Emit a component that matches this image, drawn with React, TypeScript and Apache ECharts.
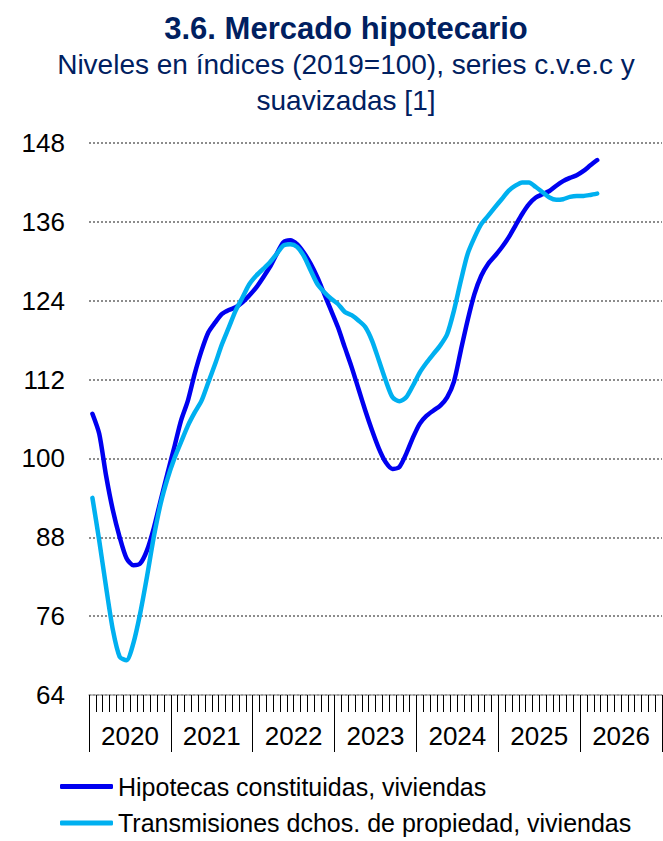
import React, { useEffect, useRef } from "react";
import * as echarts from "echarts";

const TITLE = "3.6. Mercado hipotecario";
const SUBTITLE_1 = "Niveles en índices (2019=100), series c.v.e.c y";
const SUBTITLE_2 = "suavizadas [1]";

const YEARS = ["2020", "2021", "2022", "2023", "2024", "2025", "2026"];
const MONTHS: string[] = [];
YEARS.forEach((y) => {
  for (let m = 1; m <= 12; m++) MONTHS.push(`${y}-${m < 10 ? "0" + m : m}`);
});

const SERIES_NAMES = [
  "Hipotecas constituidas, viviendas",
  "Transmisiones dchos. de propiedad, viviendas",
];

const HIPOTECAS = [
  106.8, 103.75, 97.4, 92.1, 88.0, 84.8, 83.75, 84.0, 86.0, 89.4, 93.6, 97.7,
  101.7, 105.8, 108.8, 112.9, 116.4, 119.2, 120.7, 122.0, 122.6, 123.0, 123.75, 124.8,
  126.0, 127.5, 129.1, 131.1, 132.9, 133.2, 132.6, 131.3, 129.6, 127.5, 125.0, 122.5,
  119.95, 116.9, 113.9, 110.6, 107.3, 104.25, 101.5, 99.4, 98.4, 98.7, 100.7, 103.2,
  105.3, 106.5, 107.3, 108.05, 109.3, 111.7, 116.4, 121.0, 125.0, 127.8, 129.6, 130.8,
  132.1, 133.6, 135.4, 137.2, 138.7, 139.7, 140.2, 140.7, 141.5, 142.2, 142.7, 143.1,
  143.75, 144.6, 145.4,
];

const TRANSMISIONES = [
  94.0, 87.5, 80.45, 73.9, 69.8, 69.3, 71.85, 76.4, 82.0, 88.05, 93.1, 96.9,
  99.95, 102.5, 105.0, 107.0, 108.8, 111.6, 114.4, 117.4, 119.95, 122.5, 124.5, 126.5,
  127.8, 128.8, 129.8, 131.1, 132.4, 132.6, 132.2, 130.8, 128.6, 126.5, 125.3, 124.3,
  123.5, 122.3, 121.8, 121.0, 120.0, 117.9, 114.9, 111.85, 109.3, 108.7, 109.3, 111.1,
  113.1, 114.6, 115.9, 117.2, 118.9, 122.5, 127.0, 131.1, 133.6, 135.65, 136.9, 138.2,
  139.45, 140.7, 141.5, 142.0, 142.0, 141.3, 140.5, 139.7, 139.35, 139.45, 139.8, 139.95,
  139.95, 140.1, 140.3,
];

const Y_MIN = 64;
const Y_MAX = 148;
const Y_STEP = 12;

const FONT = '"Liberation Sans", Arial, Helvetica, sans-serif';
const NAVY = "#002060";
const BLUE = "#0000F0";
const LIGHT = "#00B0F0";

function legendFor(name: string, top: number) {
  return {
    orient: "vertical",
    left: 60,
    top,
    itemWidth: 53,
    itemHeight: 5,
    itemGap: 0,
    icon: "roundRect",
    padding: 0,
    textStyle: { fontSize: 25, color: "#000", fontFamily: FONT },
    data: [name],
  };
}

export default function App() {
  const ref = useRef<HTMLDivElement>(null);

  useEffect(() => {
    if (!ref.current) return;
    const chart = echarts.init(ref.current, undefined, { renderer: "svg" });
    chart.setOption({
      animation: false,
      backgroundColor: "#ffffff",
      textStyle: { fontFamily: FONT },
      graphic: [
        {
          type: "text",
          x: 346,
          y: 28,
          style: {
            text: TITLE,
            align: "center",
            verticalAlign: "middle",
            font: `bold 31px ${FONT}`,
            fill: NAVY,
          },
        },
        {
          type: "text",
          x: 346,
          y: 64.5,
          style: {
            text: SUBTITLE_1,
            align: "center",
            verticalAlign: "middle",
            font: `28px ${FONT}`,
            fill: NAVY,
          },
        },
        {
          type: "text",
          x: 346,
          y: 100.5,
          style: {
            text: SUBTITLE_2,
            align: "center",
            verticalAlign: "middle",
            font: `28px ${FONT}`,
            fill: NAVY,
          },
        },
      ],
      legend: [legendFor(SERIES_NAMES[0], 774), legendFor(SERIES_NAMES[1], 810.5)],
      grid: { left: 89, right: 1, top: 143, bottom: 146, containLabel: false },
      xAxis: [
        {
          type: "category",
          data: MONTHS,
          boundaryGap: true,
          position: "bottom",
          axisLine: { show: true, lineStyle: { color: "#a6a6a6", width: 1.5 } },
          axisTick: {
            show: true,
            interval: 0,
            length: 17,
            lineStyle: { color: "#000", width: 1 },
          },
          axisLabel: { show: false },
          splitLine: { show: false },
        },
        {
          type: "category",
          data: YEARS,
          boundaryGap: true,
          position: "bottom",
          axisLine: { show: false },
          axisTick: {
            show: true,
            interval: 0,
            length: 57,
            lineStyle: { color: "#000", width: 1 },
          },
          axisLabel: {
            show: true,
            interval: 0,
            margin: 28,
            fontSize: 26,
            color: "#000",
            fontFamily: FONT,
          },
          splitLine: { show: false },
        },
      ],
      yAxis: {
        type: "value",
        min: Y_MIN,
        max: Y_MAX,
        interval: Y_STEP,
        axisLine: { show: false },
        axisTick: { show: false },
        axisLabel: { fontSize: 26, color: "#000", margin: 24, fontFamily: FONT },
        splitLine: {
          show: true,
          lineStyle: { color: "#8c8c8c", width: 2, type: [2, 2] },
        },
      },
      series: [
        {
          name: SERIES_NAMES[0],
          type: "line",
          xAxisIndex: 0,
          data: HIPOTECAS,
          symbol: "none",
          smooth: 0.25,
          color: BLUE,
          lineStyle: { color: BLUE, width: 4.5, cap: "round", join: "round" },
          z: 3,
        },
        {
          name: SERIES_NAMES[1],
          type: "line",
          xAxisIndex: 0,
          data: TRANSMISIONES,
          symbol: "none",
          smooth: 0.25,
          color: LIGHT,
          lineStyle: { color: LIGHT, width: 4.5, cap: "round", join: "round" },
          z: 4,
        },
      ],
    });
    return () => chart.dispose();
  }, []);

  return (
    <div
      ref={ref}
      style={{ position: "absolute", left: 0, top: 0, width: 663, height: 841 }}
    />
  );
}
